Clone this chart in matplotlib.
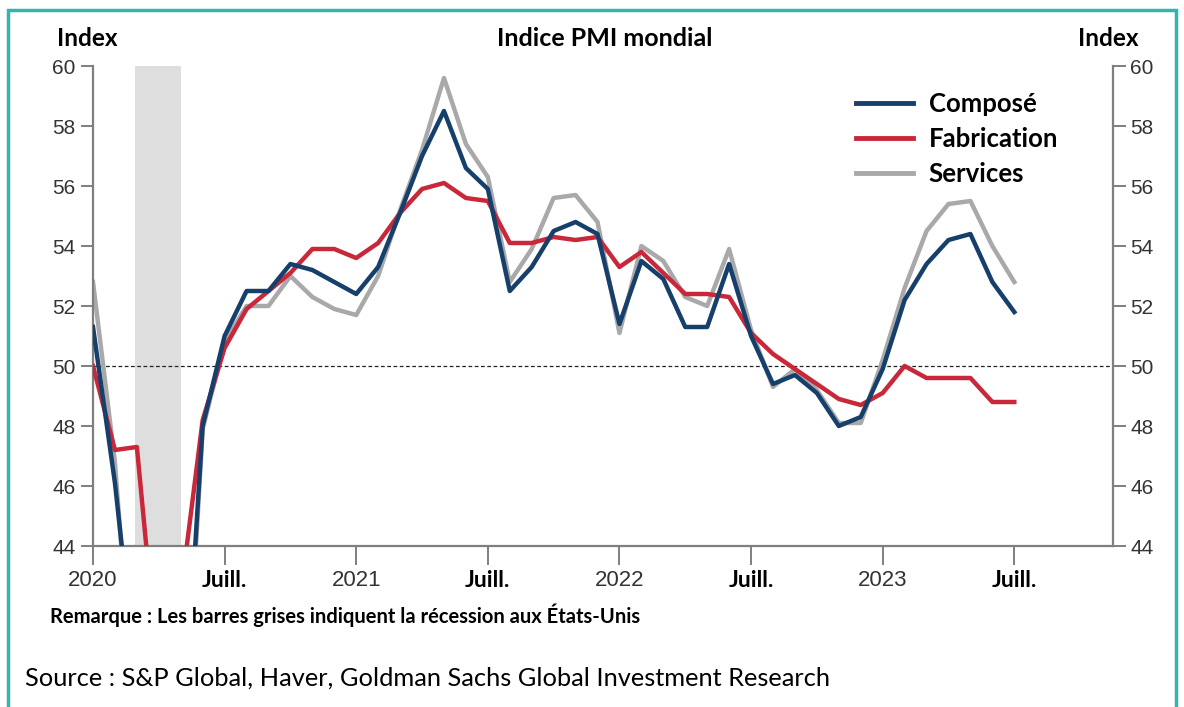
import numpy as np
import matplotlib.pyplot as plt
from matplotlib.patches import Rectangle
from matplotlib.lines import Line2D

# Monthly data, Jan 2020 .. Jul 2023 (index 0 = Jan 2020)
composite = [51.3, 46.1, 39.4, 26.2, 36.3, 48.0, 51.0, 52.5, 52.5, 53.4, 53.2, 52.8,
             52.4, 53.3, 55.1, 57.0, 58.5, 56.6, 55.9, 52.5, 53.3, 54.5, 54.8, 54.4,
             51.4, 53.5, 52.9, 51.3, 51.3, 53.4, 51.0, 49.4, 49.7, 49.1, 48.0, 48.3,
             49.9, 52.2, 53.4, 54.2, 54.4, 52.8, 51.8]
manufacturing = [50.0, 47.2, 47.3, 39.6, 42.4, 48.2, 50.6, 51.9, 52.5, 53.1, 53.9, 53.9,
                 53.6, 54.1, 55.1, 55.9, 56.1, 55.6, 55.5, 54.1, 54.1, 54.3, 54.2, 54.3,
                 53.3, 53.8, 53.1, 52.4, 52.4, 52.3, 51.1, 50.4, 49.9, 49.4, 48.9, 48.7,
                 49.1, 50.0, 49.6, 49.6, 49.6, 48.8, 48.8]
services = [52.8, 46.8, 37.0, 23.7, 35.1, 47.9, 50.8, 52.0, 52.0, 53.0, 52.3, 51.9,
            51.7, 53.0, 55.2, 57.2, 59.6, 57.4, 56.3, 52.8, 53.9, 55.6, 55.7, 54.8,
            51.1, 54.0, 53.5, 52.3, 52.0, 53.9, 51.2, 49.3, 49.9, 49.2, 48.1, 48.1,
            50.2, 52.6, 54.5, 55.4, 55.5, 54.0, 52.8]
months = np.arange(len(composite))

tick_pos = [0, 6, 12, 18, 24, 30, 36, 42]
tick_labels = ["2020", "Juill.", "2021", "Juill.", "2022", "Juill.", "2023", "Juill."]
recession = (1.9, 4.0)

navy = "#16406b"
red = "#c8283a"
grey = "#a9a9a9"
axis_grey = "#7f7f7f"
label_font = ["Liberation Sans Narrow", "Liberation Sans", "DejaVu Sans"]
text_font = ["Lato", "DejaVu Sans"]

fig = plt.figure(figsize=(11.84, 7.07), dpi=100)
ax = fig.add_axes([93 / 1184, 1 - 546 / 707, (1113 - 93) / 1184, (546 - 66) / 707])

ax.axvspan(recession[0], recession[1], color="#dedede", zorder=0, lw=0)
ax.axhline(50, color="#222222", lw=0.9, ls=(0, (3, 2)), zorder=1)
ax.plot(months, manufacturing, color=red, lw=3.2, zorder=3)
ax.plot(months, services, color=grey, lw=3.2, zorder=2)
ax.plot(months, composite, color=navy, lw=3.2, zorder=4)

ax.set_xlim(0, 46.5)
ax.set_ylim(44, 60)
ax.set_yticks(range(44, 61, 2))
ax.set_xticks(tick_pos)
ax.set_xticklabels([])

for s in ["top", "right"]:
    ax.spines[s].set_visible(False)
for s in ["left", "bottom"]:
    ax.spines[s].set_color(axis_grey)
    ax.spines[s].set_linewidth(1.6)
ax.tick_params(axis="both", colors=axis_grey, width=1.4, length=9, labelsize=15)
ax.tick_params(axis="x", length=14)
for lab in ax.get_yticklabels():
    lab.set_fontfamily(label_font)
    lab.set_color("#333333")

ax2 = ax.twinx()
ax2.set_ylim(44, 60)
ax2.set_yticks(range(44, 61, 2))
for s in ["top", "left", "bottom"]:
    ax2.spines[s].set_visible(False)
ax2.spines["right"].set_color(axis_grey)
ax2.spines["right"].set_linewidth(1.6)
ax2.tick_params(axis="y", colors=axis_grey, width=1.4, length=9, labelsize=15)
for lab in ax2.get_yticklabels():
    lab.set_fontfamily(label_font)
    lab.set_color("#333333")

# x tick labels: years grey, "Juill." bold black
for p, t in zip(tick_pos, tick_labels):
    if t == "Juill.":
        ax.text(p, -0.05, t, transform=ax.get_xaxis_transform(), ha="center", va="top",
                fontsize=16.5, fontweight="bold", family=text_font, color="black")
    else:
        ax.text(p, -0.05, t, transform=ax.get_xaxis_transform(), ha="center", va="top",
                fontsize=16, family=label_font, color="#333333")

# legend drawn by hand
handles = [Line2D([], [], color=navy, lw=3.5),
           Line2D([], [], color=red, lw=3.5),
           Line2D([], [], color=grey, lw=3.5)]
ax.legend(handles, ["Composé", "Fabrication", "Services"], loc="upper left",
          bbox_to_anchor=(0.725, 0.995), frameon=False, handlelength=2.25,
          handletextpad=0.6, labelspacing=0.44,
          prop={"family": text_font, "weight": "bold", "size": 18.5})

fig.text(57 / 1184, 1 - 38 / 707, "Index", fontsize=17.5, fontweight="bold",
         family=text_font, va="center")
fig.text(1078 / 1184, 1 - 38 / 707, "Index", fontsize=17.5, fontweight="bold",
         family=text_font, va="center")
fig.text(605 / 1184, 1 - 38 / 707, "Indice PMI mondial", fontsize=18, fontweight="bold",
         family=text_font, va="center", ha="center")
fig.text(50 / 1184, 1 - 615 / 707, "Remarque : Les barres grises indiquent la récession aux États-Unis",
         fontsize=14.5, fontweight="bold", family=text_font, va="center")
fig.text(25 / 1184, 1 - 678 / 707, "Source : S&P Global, Haver, Goldman Sachs Global Investment Research",
         fontsize=18.3, family=text_font, va="center")

# teal frame around the chart
fig.patches.append(Rectangle((8 / 1184, -0.05), 1168 / 1184, 1.05 - 10 / 707,
                             transform=fig.transFigure, fill=False,
                             edgecolor="#35b3ad", lw=2.5))

fig.savefig("out.png", dpi=100)
